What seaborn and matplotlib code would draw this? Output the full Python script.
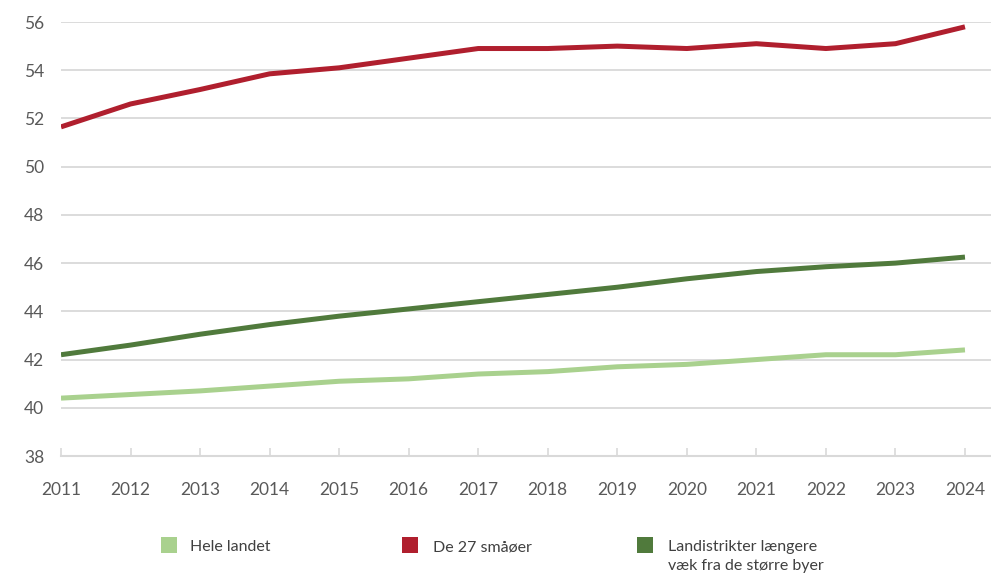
import matplotlib
matplotlib.use("Agg")
import matplotlib.pyplot as plt
from matplotlib.patches import Rectangle
import pandas as pd
import seaborn as sns

years = list(range(2011, 2025))
hele_landet = [40.4, 40.55, 40.7, 40.9, 41.1, 41.2, 41.4, 41.5, 41.7, 41.8, 42.0, 42.2, 42.2, 42.4]
smaaoer = [51.65, 52.6, 53.2, 53.85, 54.1, 54.5, 54.9, 54.9, 55.0, 54.9, 55.1, 54.9, 55.1, 55.8]
landdistrikter = [42.2, 42.6, 43.05, 43.45, 43.8, 44.1, 44.4, 44.7, 45.0, 45.35, 45.65, 45.85, 46.0, 46.25]

series_names = ["Hele landet", "De 27 småøer", "Landistrikter længere\nvæk fra de større byer"]
series_values = [hele_landet, smaaoer, landdistrikter]
colors = ["#A9D18E", "#B01F2E", "#507A3C"]
y_ticks = [38, 40, 42, 44, 46, 48, 50, 52, 54, 56]

df = pd.DataFrame({
    "År": years * len(series_names),
    "Værdi": [v for vals in series_values for v in vals],
    "Serie": [name for name in series_names for _ in years],
})

sns.set_style("white")
plt.rcParams["font.family"] = ["Lato", "DejaVu Sans"]

W, H = 991, 576
fig = plt.figure(figsize=(W / 100, H / 100), dpi=100)
ax = fig.add_axes([61 / W, 1 - 456 / H, 1 - 61 / W, (456 - 22) / H])

sns.lineplot(data=df, x="År", y="Værdi", hue="Serie", hue_order=series_names,
             palette=colors, linewidth=3.6, ax=ax, legend=False)
for line in ax.get_lines():
    line.set_solid_capstyle("butt")
    line.set_solid_joinstyle("round")

grid_color = "#D9D9D9"
ax.set_ylim(38, 56)
ax.set_xlim(2011, 2011 + (990 - 61) / (964 - 61) * 13)
ax.set_yticks(y_ticks)
ax.set_xticks(years)
ax.set_xticklabels([str(y) for y in years])
ax.yaxis.grid(True, color=grid_color, linewidth=1.3)
ax.set_axisbelow(True)
for side in ["left", "right", "top"]:
    ax.spines[side].set_visible(False)
ax.spines["bottom"].set_color(grid_color)
ax.spines["bottom"].set_linewidth(1.5)
ax.tick_params(axis="x", bottom=True, direction="in", length=6, width=1.2, color=grid_color,
               pad=19, labelsize=12.5, labelcolor="#595959")
ax.tick_params(axis="y", left=False, length=0, pad=12, labelsize=12.5, labelcolor="#595959")
ax.set_xlabel("")
ax.set_ylabel("")

# legend: colour squares with labels along the bottom
legend_patch_x = [161, 402, 637]
legend_text_x = [190, 433, 668]
patch_top, patch_size = 537, 16
first_line_y = 550
for name, color, px, tx in zip(series_names, colors, legend_patch_x, legend_text_x):
    fig.add_artist(Rectangle((px / W, 1 - (patch_top + patch_size) / H), patch_size / W, patch_size / H,
                             transform=fig.transFigure, facecolor=color, edgecolor="none"))
    fig.text(tx / W, 1 - (first_line_y - 10) / H, name, ha="left", va="top",
             fontsize=11.5, color="#404040", linespacing=1.45)

fig.savefig("out.png", dpi=100)
